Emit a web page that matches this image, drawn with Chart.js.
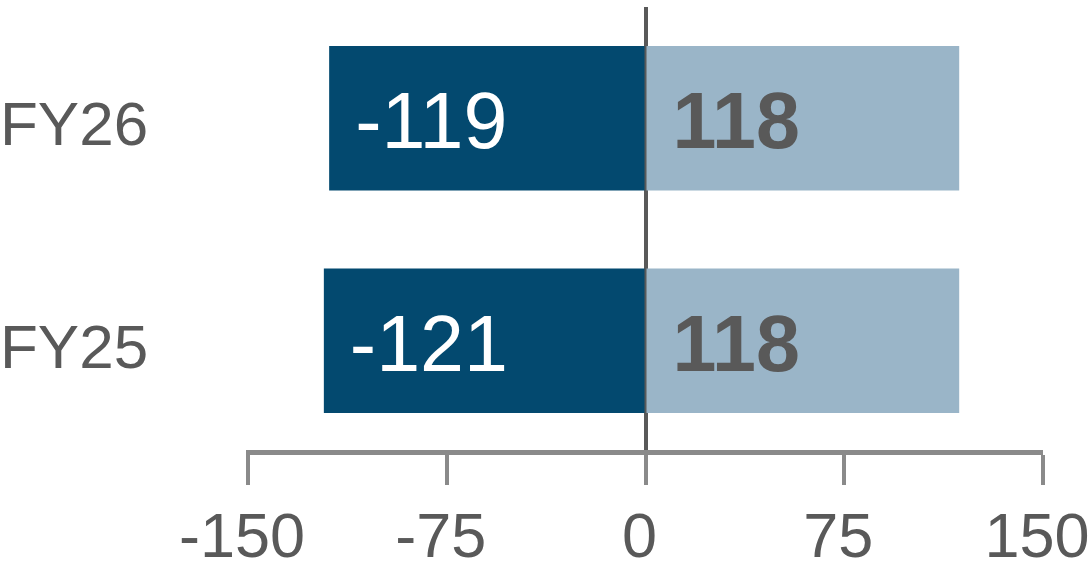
<!DOCTYPE html>
<html>
<head>
<meta charset="utf-8">
<title>FY bar chart</title>
<script src="https://cdn.jsdelivr.net/npm/chart.js@4/dist/chart.umd.min.js"></script>
<style>
    html, body { margin: 0; padding: 0; background: #fff; }
    #wrap { width: 1092px; height: 576px; position: relative; }
</style>
</head>
<body>
<div id="wrap"><canvas id="fyChart"></canvas></div>
<script>
// ==========================
// Data
// ==========================
const categories = ["FY26", "FY25"];
const negValues = [-119, -121];
const posValues = [118, 118];
const xTicks = [-150, -75, 0, 75, 150];

const FONT = "'Liberation Sans', Arial, sans-serif";
const GREY_TXT = "#595959";
const GREY_AXIS = "#8a8a8a";

// ==========================
// Labels inside bars
// ==========================
const barLabels = {
    id: "barLabels",
    afterDatasetsDraw(chart) {
        const ctx = chart.ctx;
        ctx.save();
        ctx.textAlign = "left";
        ctx.textBaseline = "alphabetic";
        chart.data.datasets.forEach((ds, di) => {
            const meta = chart.getDatasetMeta(di);
            meta.data.forEach((bar, i) => {
                const left = Math.min(bar.base, bar.x);
                ctx.fillStyle = ds.labelColor;
                ctx.font = ds.labelWeight + " 79px " + FONT;
                ctx.fillText(String(ds.data[i]), left + 25, bar.y + 30);
            });
        });
        ctx.restore();
    }
};

new Chart(document.getElementById("fyChart"), {
    type: "bar",
    data: {
        labels: categories,
        datasets: [
            {
                data: negValues,
                backgroundColor: "#03496f",
                labelColor: "#ffffff",
                labelWeight: "normal"
            },
            {
                data: posValues,
                backgroundColor: "#9ab5c8",
                labelColor: GREY_TXT,
                labelWeight: "bold"
            }
        ]
    },
    options: {
        indexAxis: "y",
        responsive: true,
        maintainAspectRatio: false,
        animation: false,
        events: [],
        layout: { padding: { top: 7, right: 49, left: 0, bottom: 0 } },
        datasets: {
            bar: { categoryPercentage: 0.64, barPercentage: 1, borderWidth: 0, inflateAmount: 1 }
        },
        plugins: {
            legend: { display: false },
            tooltip: { enabled: false }
        },
        scales: {
            x: {
                stacked: true,
                min: -150,
                max: 150,
                afterBuildTicks: scale => {
                    scale.ticks = xTicks.map(v => ({ value: v }));
                },
                afterFit: scale => {
                    scale.paddingLeft = 0;
                    scale.paddingRight = 0;
                    scale.height = 124;
                },
                border: { display: true, color: GREY_AXIS, width: 5 },
                grid: {
                    drawOnChartArea: true,
                    drawTicks: true,
                    tickLength: 33,
                    tickWidth: 4,
                    tickColor: GREY_AXIS,
                    color: c => (c.tick && c.tick.value === 0) ? GREY_TXT : "rgba(0,0,0,0)",
                    lineWidth: c => (c.tick && c.tick.value === 0) ? 4 : 0
                },
                ticks: {
                    color: GREY_TXT,
                    font: { family: FONT, size: 63 },
                    padding: 17,
                    labelOffset: -6,
                    maxRotation: 0,
                    autoSkip: false
                }
            },
            y: {
                stacked: true,
                afterFit: scale => {
                    scale.width = 248;
                    scale.paddingTop = 0;
                    scale.paddingBottom = 0;
                },
                border: { display: false },
                grid: { display: false },
                ticks: {
                    color: GREY_TXT,
                    font: { family: FONT, size: 62 },
                    crossAlign: "far",
                    labelOffset: 10,
                    padding: 0
                }
            }
        }
    },
    plugins: [barLabels]
});
</script>
</body>
</html>
